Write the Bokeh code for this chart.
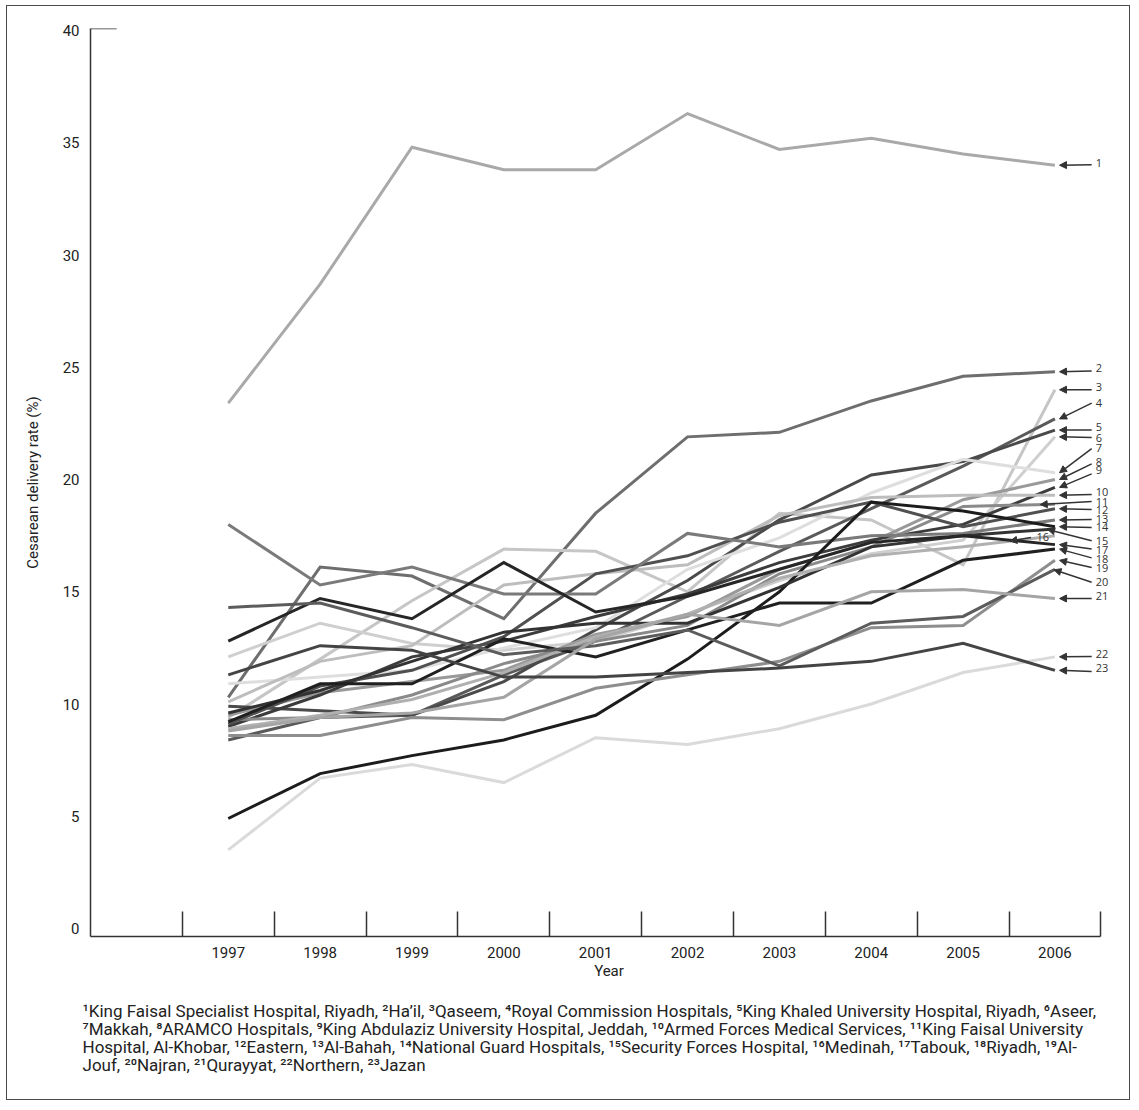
import numpy as np
from bokeh.plotting import figure
from bokeh.models import Range1d, FixedTicker, Title, Arrow, NormalHead, ColumnDataSource
from bokeh.embed import file_html
from bokeh.resources import INLINE
from bokeh.core.properties import value

# ---------------- data ----------------
years = ["1997", "1998", "1999", "2000", "2001", "2002", "2003", "2004", "2005", "2006"]
y_ticks = [0, 5, 10, 15, 20, 25, 30, 35, 40]

s1 = [23.4, 28.7, 34.8, 33.8, 33.8, 36.3, 34.7, 35.2, 34.5, 34.0]
s2 = [10.3, 16.1, 15.7, 13.8, 18.5, 21.9, 22.1, 23.5, 24.6, 24.8]
s3 = [9.4, 12.0, 14.6, 16.9, 16.8, 15.0, 18.5, 18.2, 16.2, 24.0]
s4 = [8.4, 9.4, 9.5, 11.3, 12.8, 14.8, 16.8, 18.7, 20.6, 22.7]
s5 = [9.9, 9.7, 9.5, 11.0, 13.3, 15.5, 18.2, 20.2, 20.8, 22.2]
s6 = [12.1, 13.6, 12.7, 12.4, 12.8, 14.0, 15.5, 16.7, 17.3, 21.9]
s7 = [10.9, 11.2, 11.5, 12.5, 13.4, 16.0, 17.4, 19.4, 20.9, 20.3]
s8 = [9.5, 10.5, 11.0, 11.5, 13.1, 13.9, 16.0, 17.2, 19.1, 20.0]
s9 = [9.0, 10.4, 12.1, 12.8, 13.9, 14.9, 16.3, 17.3, 18.0, 19.65]
s10 = [10.1, 11.9, 12.6, 15.3, 15.8, 16.2, 18.4, 19.2, 19.3, 19.3]
s11 = [9.3, 9.4, 10.4, 11.8, 12.8, 13.5, 15.8, 17.0, 18.8, 18.9]
s12 = [9.1, 10.8, 11.5, 13.0, 15.8, 16.6, 18.1, 19.0, 17.9, 18.7]
s13 = [18.0, 15.3, 16.1, 14.9, 14.9, 17.6, 17.0, 17.5, 17.6, 18.2]
s14 = [4.9, 6.9, 7.7, 8.4, 9.5, 12.0, 15.0, 19.0, 18.6, 17.9]
s15 = [9.6, 10.6, 11.9, 13.2, 13.6, 13.6, 15.2, 17.0, 17.5, 17.8]
s16 = [8.9, 9.5, 10.2, 11.4, 13.0, 14.0, 15.6, 16.6, 17.0, 17.5]
s17 = [12.8, 14.7, 13.8, 16.3, 14.1, 14.8, 16.0, 17.2, 17.5, 17.1]
s18 = [9.2, 10.9, 10.9, 12.9, 12.1, 13.3, 14.5, 14.5, 16.4, 16.9]
s19 = [8.6, 8.6, 9.4, 9.3, 10.7, 11.3, 11.9, 13.4, 13.5, 16.4]
s20 = [14.3, 14.5, 13.4, 12.2, 12.6, 13.3, 11.7, 13.6, 13.9, 16.0]
s21 = [8.8, 9.4, 9.6, 10.3, 12.9, 14.0, 13.5, 15.0, 15.1, 14.7]
s22 = [3.5, 6.7, 7.3, 6.5, 8.5, 8.2, 8.9, 10.0, 11.4, 12.1]
s23 = [11.3, 12.6, 12.4, 11.2, 11.2, 11.4, 11.6, 11.9, 12.7, 11.5]

series = [s1, s2, s3, s4, s5, s6, s7, s8, s9, s10, s11, s12,
          s13, s14, s15, s16, s17, s18, s19, s20, s21, s22, s23]
series_ids = [str(i + 1) for i in range(len(series))]

footnote_lines = [
    "¹King Faisal Specialist Hospital, Riyadh, ²Ha’il, ³Qaseem, ⁴Royal Commission Hospitals, ⁵King Khaled University Hospital, Riyadh, ⁶Aseer,",
    "⁷Makkah, ⁸ARAMCO Hospitals, ⁹King Abdulaziz University Hospital, Jeddah, ¹⁰Armed Forces Medical Services, ¹¹King Faisal University",
    "Hospital, Al-Khobar, ¹²Eastern, ¹³Al-Bahah, ¹⁴National Guard Hospitals, ¹⁵Security Forces Hospital, ¹⁶Medinah, ¹⁷Tabouk, ¹⁸Riyadh, ¹⁹Al-",
    "Jouf, ²⁰Najran, ²¹Qurayyat, ²²Northern, ²³Jazan",
]

# ---------------- styles / layout ----------------
colors = ["#a9a9a9", "#6e6e6e", "#c6c6c6", "#5a5a5a", "#4a4a4a", "#cfcfcf",
          "#dedede", "#999999", "#3c3c3c", "#bdbdbd", "#8a8a8a", "#505050",
          "#7a7a7a", "#1c1c1c", "#333333", "#b0b0b0", "#262626", "#202020",
          "#8e8e8e", "#5c5c5c", "#a5a5a5", "#dadada", "#444444"]

tip_x = [9.05] * 23
tip_x[10] = 8.84   # 11 points at a segment
tip_x[14] = 8.92   # 15
tip_x[15] = 8.51   # 16
tip_x[19] = 8.99   # 20
label_y = [34.1, 24.95, 24.1, 23.42, 22.35, 21.87, 21.4, 20.78, 20.42, 19.45,
           19.02, 18.66, 18.22, 17.88, 17.24, 17.45, 16.88, 16.48, 16.08, 15.45,
           14.82, 12.24, 11.62]
tail_dy = [-0.08, -0.12, -0.1, -0.02, -0.15, 0.0, -0.02, -0.08, -0.17, -0.12,
           0.0, 0.0, 0.0, -0.02, 0.03, -0.03, 0.03, 0.03, 0.0, -0.03,
           -0.12, -0.12, -0.17]
label_x = [9.445] * 23
tail_x = [9.40] * 23
label_x[15] = 8.80
tail_x[15] = 8.74

FONT = "Roboto"
AX = "#333333"
TXT = "#222222"

p = figure(width=1124, height=1095,
           x_range=Range1d(-1.5, 9.79), y_range=Range1d(-0.356, 40.09),
           output_backend="svg", toolbar_location=None,
           min_border_left=83, min_border_right=4, min_border_top=22,
           min_border_bottom=165,
           styles={"border": "1.5px solid #4a4a4a", "margin": "5px 0px 0px 6px"})
p.grid.visible = False
p.outline_line_color = None
p.background_fill_color = "white"
p.border_fill_color = "white"

xs = list(range(len(years)))
for s, c in zip(series, colors):
    p.line(xs, s, line_color=c, line_width=3, line_join="miter")

# x axis
xa = p.xaxis[0]
xa.ticker = FixedTicker(ticks=xs, minor_ticks=[i - 0.5 for i in range(len(years) + 1)])
xa.major_label_overrides = {i: y for i, y in enumerate(years)}
xa.bounds = (-1.5, 9.5)
xa.major_tick_in = 0
xa.major_tick_out = 0
xa.minor_tick_in = 25
xa.minor_tick_out = 0
xa.minor_tick_line_color = AX
xa.minor_tick_line_width = 1.5
xa.axis_line_color = AX
xa.axis_line_width = 1.5
xa.major_label_standoff = 10
xa.major_label_text_font = FONT
xa.major_label_text_font_size = "15px"
xa.major_label_text_color = TXT
xa.axis_label = "Year"
xa.axis_label_text_font = FONT
xa.axis_label_text_font_size = "15px"
xa.axis_label_text_font_style = "normal"
xa.axis_label_text_color = TXT
xa.axis_label_standoff = 1

# y axis
ya = p.yaxis[0]
ya.ticker = FixedTicker(ticks=y_ticks, minor_ticks=[])
ya.major_tick_in = 0
ya.major_tick_out = 0
ya.minor_tick_in = 0
ya.minor_tick_out = 0
ya.axis_line_color = AX
ya.axis_line_width = 1.5
ya.major_label_standoff = 11
ya.major_label_text_font = FONT
ya.major_label_text_font_size = "15px"
ya.major_label_text_color = TXT
ya.axis_label = "Cesarean delivery rate (%)"
ya.axis_label_text_font = FONT
ya.axis_label_text_font_size = "15px"
ya.axis_label_text_font_style = "normal"
ya.axis_label_text_color = TXT
ya.axis_label_standoff = 18

# top stub of the y axis
p.segment(x0=[-1.5], y0=[40.09], x1=[-1.215], y1=[40.09], line_color=AX, line_width=1.5)

# arrows + numbers
xs_arr = np.array(xs, dtype=float)
tip_y = [float(np.interp(tx, xs_arr, s)) for tx, s in zip(tip_x, series)]
tail_y = [ly + d for ly, d in zip(label_y, tail_dy)]
asrc = ColumnDataSource(dict(x0=tail_x, y0=tail_y, x1=tip_x, y1=tip_y))
p.add_layout(Arrow(end=NormalHead(size=7, fill_color=AX, line_color=AX, line_width=1),
                   x_start="x0", y_start="y0", x_end="x1", y_end="y1",
                   line_color=AX, line_width=1.5, source=asrc))
p.text(x=label_x, y=label_y, text=series_ids, text_font=value("Open Sans"),
       text_font_size="11px", text_baseline="middle", text_align="left",
       text_color="#333333")

# footnote (spacer + four lines)
p.add_layout(Title(text=" ", text_font=FONT, text_font_size="14px", standoff=0), "below")
for line in footnote_lines:
    t = Title(text=line, align="left", offset=-8, text_font=FONT,
              text_font_size="17px", text_font_style="normal",
              text_color=TXT, standoff=-4)
    p.add_layout(t, "below")

open("out.html", "w").write(file_html(p, INLINE))
